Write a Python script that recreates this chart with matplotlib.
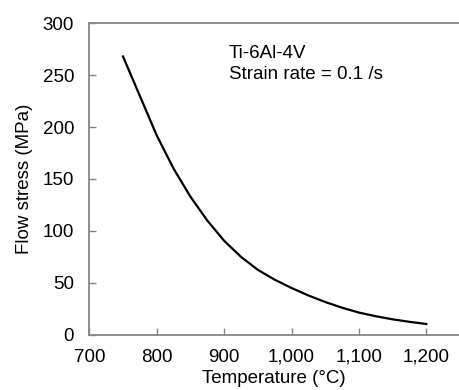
import matplotlib
matplotlib.use("Agg")
import matplotlib.pyplot as plt
from matplotlib.ticker import FuncFormatter

plt.rcParams['font.family'] = ['Liberation Sans', 'DejaVu Sans']

# values
temperature = [750, 775, 800, 825, 850, 875, 900, 925, 950, 975, 1000,
               1025, 1050, 1075, 1100, 1125, 1150, 1175, 1200]
flow_stress = [268, 230, 192, 160, 133, 110, 90.5, 75, 62.5, 53, 45,
               37.8, 31.5, 26, 21.3, 17.8, 14.8, 12.4, 10.3]

x_ticks = [700, 800, 900, 1000, 1100, 1200]
y_ticks = [0, 50, 100, 150, 200, 250, 300]

fig = plt.figure(figsize=(4.59, 3.90), dpi=100)
ax = fig.add_axes([0.1946, 0.1418, 0.8054, 0.7985])

ax.plot(temperature, flow_stress, color="black", lw=1.6)

ax.set_xlim(700, 1248.5)
ax.set_ylim(0, 300)
ax.set_xticks(x_ticks)
ax.set_yticks(y_ticks)
ax.xaxis.set_major_formatter(FuncFormatter(lambda v, p: f"{int(v):,}"))

spine_col = "#868686"
for s in ["left", "bottom", "top"]:
    ax.spines[s].set_color(spine_col)
    ax.spines[s].set_linewidth(1.3)
ax.spines["right"].set_visible(False)

ax.tick_params(axis="both", direction="in", length=5, width=1, color=spine_col,
               labelsize=13.5, labelcolor="black")
ax.tick_params(axis="x", pad=10)
ax.tick_params(axis="y", pad=11)

ax.set_xlabel("Temperature (°C)", fontsize=13.5, labelpad=3)
ax.set_ylabel("Flow stress (MPa)", fontsize=13.5, labelpad=7)

ax.text(0.378, 0.8876, "Ti-6Al-4V", transform=ax.transAxes,
        fontsize=13.5, va="baseline", ha="left")
ax.text(0.378, 0.8211, "Strain rate = 0.1 /s", transform=ax.transAxes,
        fontsize=13.5, va="baseline", ha="left")

fig.savefig("out.png", dpi=100)
